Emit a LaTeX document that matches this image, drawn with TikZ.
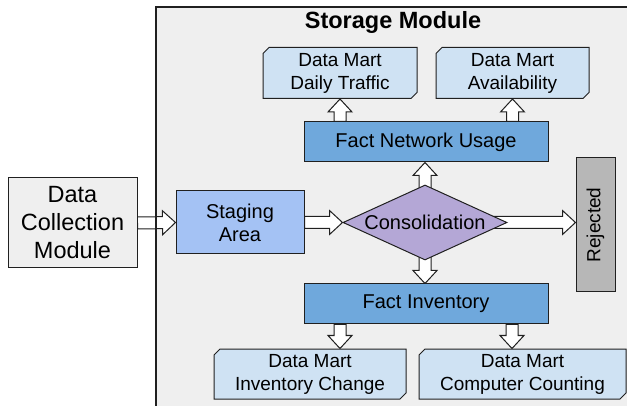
\documentclass[tikz,border=0pt]{standalone}
\usepackage{fontspec}
\setmainfont{Liberation Sans}
\usetikzlibrary{calc,shapes.geometric,shapes.misc}

\definecolor{panelgray}{HTML}{EFEFEF}
\definecolor{edgegray}{HTML}{202020}
\definecolor{factblue}{HTML}{6FA8DC}
\definecolor{stageblue}{HTML}{A4C2F4}
\definecolor{martblue}{HTML}{CFE2F3}
\definecolor{consviolet}{HTML}{B4A7D6}
\definecolor{rejgray}{HTML}{B7B7B7}

\pgfdeclarelayer{back}
\pgfdeclarelayer{arrows}
\pgfsetlayers{back,arrows,main}

\tikzset{
  box/.style={draw=edgegray, line width=1pt, inner sep=0pt, align=center,
    font=\fontsize{20}{23}\selectfont},
  fact/.style={box, fill=factblue, minimum width=244pt, minimum height=40pt},
  mart/.style={box, chamfered rectangle,
    chamfered rectangle corners={north west,south east},
    chamfered rectangle xsep=3pt, chamfered rectangle ysep=3pt,
    fill=martblue, minimum height=51pt, font=\fontsize{19}{23}\selectfont},
  blockarrow/.style={draw=edgegray, fill=white, line width=1pt, line join=miter},
}

% fat arrow from #1 to #2, tip at #2
\newcommand{\blockarrow}[2]{%
  \draw[blockarrow] let \p1=(#1), \p2=(#2),
    \n1={veclen(\x2-\x1,\y2-\y1)}, \n2={atan2(\y2-\y1,\x2-\x1)} in
    [shift={(\p1)}, rotate=\n2]
    (0pt,-6pt) -- (\n1-13pt,-6pt) -- (\n1-13pt,-12pt) -- (\n1,0pt)
    -- (\n1-13pt,12pt) -- (\n1-13pt,6pt) -- (0pt,6pt) -- cycle;}

\begin{document}
\begin{tikzpicture}[x=1pt,y=-1pt]
\useasboundingbox (0,0) rectangle (627,406);

\begin{pgfonlayer}{back}
    \fill[panelgray] (156,7) rectangle (627,406);
\end{pgfonlayer}
\draw[edgegray,line width=1.3pt] (156,406) -- (156,7) -- (627,7);

    \node[font=\bfseries\fontsize{23.5}{28}\selectfont] (title) at (393,22) {Storage Module};

    \node[box,fill=panelgray,minimum width=129pt,minimum height=90pt,
          font=\fontsize{23.5}{28}\selectfont] (dcm) at (72.5,223) {Data\\Collection\\Module};
    \node[box,fill=stageblue,minimum width=128pt,minimum height=63pt] (stage) at (240,222.5) {Staging\\Area};
    \node[box,fill=consviolet,diamond,aspect=2.19,minimum width=164pt,minimum height=75pt] (cons) at (425,222.5) {Consolidation};
    \node[box,fill=rejgray,minimum width=39pt,minimum height=134pt,
          font=\fontsize{19}{23}\selectfont] (rej) at (595.5,225) {\rotatebox{90}{Rejected}};

    \node[fact] (fnu) at (426,142) {Fact Network Usage};
    \node[fact] (fi)  at (426,304) {Fact Inventory};

    \node[mart,minimum width=154pt] (dmtraffic) at (340,73)  {Data Mart\\Daily Traffic};
    \node[mart,minimum width=153pt] (dmavail)   at (512.5,73) {Data Mart\\Availability};
    \node[mart,minimum width=192pt,minimum height=50pt] (dminv)   at (310,374)   {Data Mart\\Inventory Change};
    \node[mart,minimum width=207pt,minimum height=50pt] (dmcount) at (522.5,374) {Data Mart\\Computer Counting};

    \coordinate (fiout1) at ($(fi.south)+(-86,0)$);
    \coordinate (fiout2) at ($(fi.south)+(86,0)$);

\begin{pgfonlayer}{arrows}
    \blockarrow{dcm.east}{stage.west}
    \blockarrow{stage.east}{cons.west}
    \blockarrow{cons.center}{cons.center -| rej.west}
    \blockarrow{cons.center}{cons.center |- fnu.south}
    \blockarrow{cons.center}{cons.center |- fi.north}

    \blockarrow{dmtraffic.south |- fnu.north}{dmtraffic.south}
    \blockarrow{dmavail.south |- fnu.north}{dmavail.south}

    \blockarrow{fiout1}{fiout1 |- dminv.north}
    \blockarrow{fiout2}{fiout2 |- dmcount.north}
\end{pgfonlayer}

\end{tikzpicture}
\end{document}
